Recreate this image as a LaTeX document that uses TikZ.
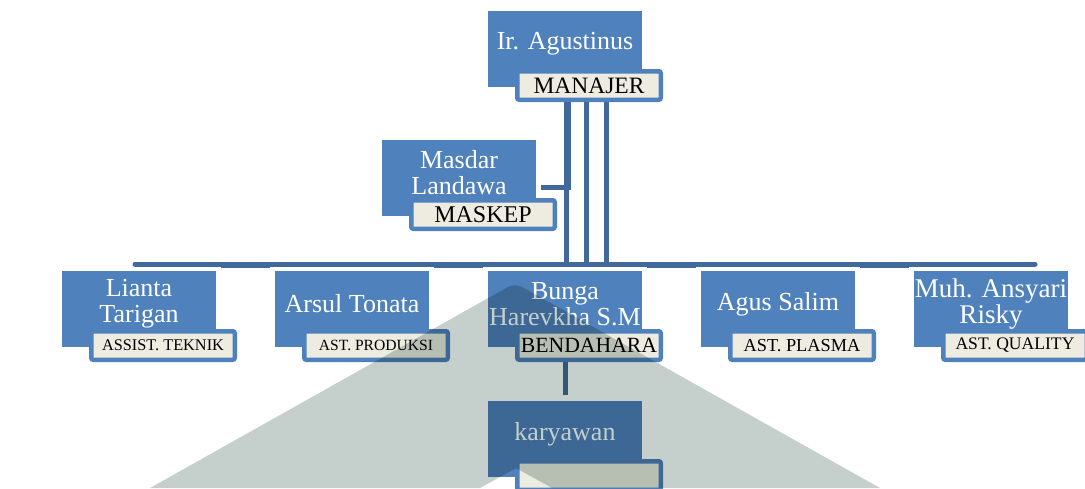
\documentclass[tikz,border=0pt]{standalone}
\usepackage{fontspec}
\setmainfont{Liberation Serif}
\usetikzlibrary{positioning,backgrounds}
\definecolor{boxblue}{HTML}{4F81BD}
\definecolor{lineblue}{HTML}{41699B}
\definecolor{tagfill}{HTML}{EEECE1}
\definecolor{wmgray}{HTML}{C5CFCB}
\tikzstyle{namebox} = [rectangle, fill=boxblue, minimum width=154pt,
    minimum height=76pt, inner sep=0pt]
\tikzstyle{nametext} = [text=white, align=center, inner sep=0pt,
    font=\fontsize{26}{26}\selectfont]
\tikzstyle{rolebox} = [rectangle, draw=boxblue, fill=tagfill, line width=4.5pt,
    rounded corners=2pt, minimum width=143.5pt, minimum height=28.5pt, inner sep=0pt]
\tikzstyle{line} = [draw=lineblue, line width=5pt]

\begin{document}
\begin{tikzpicture}[x=1pt, y=-1pt, node distance=213pt]
    \useasboundingbox (0,0) rectangle (1085,488);
    % Place nodes
    \node [namebox] (manajer) at (565,49) {};
    \node [namebox] (maskep) at (459,178) {};
    \node [namebox] (lianta) at (139,309) {};
    \node [namebox, right of=lianta] (arsul) {};
    \node [namebox, right of=arsul] (bunga) {};
    \node [namebox, right of=bunga] (agus) {};
    \node [namebox, right of=agus] (ansyari) {};
    \node [namebox, below of=bunga, node distance=130pt] (karyawan) {};
    % Names
    \node [nametext] (manajer-t) at ([yshift=5pt]manajer.center) {Ir. Agustinus};
    \node [nametext] (maskep-t) at ([yshift=5pt]maskep.center) {Masdar\\Landawa};
    \node [nametext] (lianta-t) at ([yshift=5pt]lianta.center) {Lianta\\Tarigan};
    \node [nametext] (arsul-t) at ([yshift=5pt]arsul.center) {Arsul Tonata};
    \node [nametext] (bunga-t) at ([yshift=5pt]bunga.center) {Bunga\\Harevkha S.M};
    \node [nametext] (agus-t) at ([yshift=5pt]agus.center) {Agus Salim};
    \node [nametext, font=\fontsize{27}{26}\selectfont] (ansyari-t) at ([yshift=5pt]ansyari.center) {Muh. Ansyari\\Risky};
    \node [nametext] (karyawan-t) at ([yshift=5pt]karyawan.center) {karyawan};
    % Roles
    \node [rolebox, font=\fontsize{23.5}{24}\selectfont] (manajer-r) at ([xshift=24pt,yshift=-36.5pt]manajer.center) {MANAJER};
    \node [rolebox, font=\fontsize{24}{24}\selectfont] (maskep-r) at ([xshift=24pt,yshift=-36.5pt]maskep.center) {MASKEP};
    \node [rolebox, font=\fontsize{16.3}{17}\selectfont] (lianta-r) at ([xshift=24pt,yshift=-36.5pt]lianta.center) {ASSIST. TEKNIK};
    \node [rolebox, font=\fontsize{15.6}{16}\selectfont] (arsul-r) at ([xshift=24pt,yshift=-36.5pt]arsul.center) {AST. PRODUKSI};
    \node [rolebox, font=\fontsize{21.7}{22}\selectfont] (bunga-r) at ([xshift=24pt,yshift=-36.5pt]bunga.center) {BENDAHARA};
    \node [rolebox, font=\fontsize{18.3}{19}\selectfont] (agus-r) at ([xshift=24pt,yshift=-36.5pt]agus.center) {AST. PLASMA};
    \node [rolebox, font=\fontsize{17.6}{18}\selectfont] (ansyari-r) at ([xshift=24pt,yshift=-36.5pt]ansyari.center) {AST. QUALITY};
    \node [rolebox] (karyawan-r) at ([xshift=24pt,yshift=-36.5pt]karyawan.center) {};
    \coordinate (bus-l) at (135,264);
    \coordinate (bus-r) at (1035,264);
    % Draw edges
    \begin{scope}[on background layer]
    \path [line, line cap=round] (bus-l) -- (bus-r);
    \path [line] ([xshift=-23pt]manajer-r.south) |- (bus-l);
    \path [line] ([xshift=-3pt]manajer-r.south) |- (bus-r);
    \path [line] ([xshift=17pt]manajer-r.south) |- (bus-r);
    \path [line] ([xshift=-21pt]manajer-r.south) |- ([xshift=5pt,yshift=-9pt]maskep.east);
    \foreach \a/\b in {lianta/arsul, arsul/bunga, bunga/agus, agus/ansyari}
        \path [line] ([xshift=5pt,yshift=5pt]\a.north east) -- ([xshift=-5pt,yshift=5pt]\b.north west);
    \path [line] (bunga) -- ([yshift=6pt]karyawan.north);
    \end{scope}
    % Watermark
    \fill [wmgray, blend mode=multiply] (150,488) [rounded corners=8pt] -- (515,283)
        [sharp corners] -- (880,488) -- (552,488) -- (516,468) -- (480,488) -- cycle;
\end{tikzpicture}
\end{document}
